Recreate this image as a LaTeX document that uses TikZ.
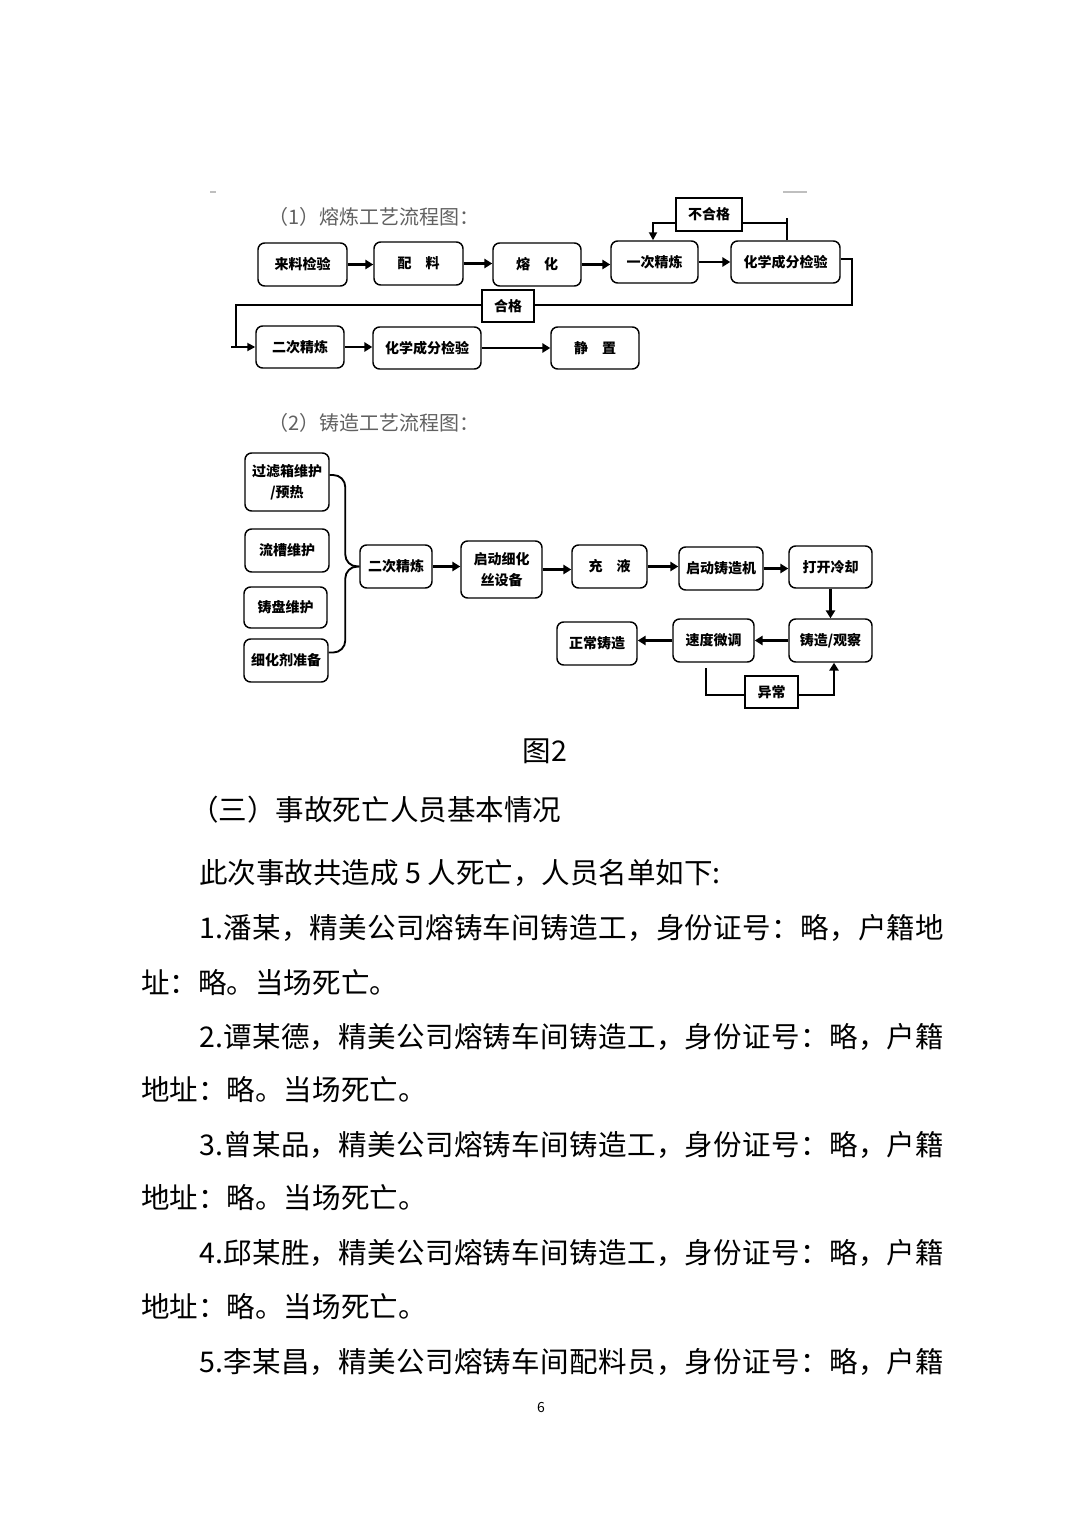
\documentclass[tikz,border=0pt]{standalone}
\usepackage{fontspec}
\setmainfont{Noto Sans CJK SC}
\usetikzlibrary{arrows.meta}
\makeatletter
\def\spr@a#1{\ifx\relax#1\else#1\hskip 0pt plus 1fil\expandafter\spr@a\fi}
\newcommand\jline[1]{\hbox to 558.75pt{\spr@a#1\relax\unskip}}
\makeatother
\begin{document}
\begin{tikzpicture}[x=0.75pt,y=-0.75pt,
  box/.style={draw, line width=1.1pt, rounded corners=5pt, inner sep=0pt, align=center,
    font=\fontsize{10.5pt}{16pt}\selectfont\bfseries},
  rbox/.style={draw, line width=1.1pt, inner sep=0pt, align=center,
    font=\fontsize{10.5pt}{16pt}\selectfont\bfseries},
  arr/.style={line width=2.2pt, -{Triangle[length=6pt,width=7pt]}},
  thk/.style={line width=2.2pt},
  thn/.style={line width=1.4pt},
  tarr/.style={line width=1.4pt, -{Triangle[length=6pt,width=6pt]}},
  ctitle/.style={anchor=west, inner sep=0pt, text=black!62, font=\fontsize{15pt}{15pt}\selectfont},
  body/.style={anchor=west, inner sep=0pt, font=\fontsize{21.4pt}{21.4pt}\selectfont},
]
\useasboundingbox[fill=white] (0,0) rectangle (1080,1527);
\newcommand\bx[7][box]{\node[#1, minimum width={(#5-#3)*0.75pt}, minimum height={(#6-#4)*0.75pt}] (#2) at ({(#3+#5)/2},{(#4+#6)/2}) {#7};}

% faint scan marks
\draw[black!25, line width=1pt] (210,192) -- (216,192);
\draw[black!25, line width=1pt] (783,192) -- (807,192);

% ---------- chart 1 ----------
\node[ctitle] (t1) at (268,217) {（1）熔炼工艺流程图：};
\bx{a1}{258}{243}{347}{286}{来料检验}
\bx{a2}{374}{242}{463}{285}{配　料}
\bx{a3}{493}{243}{581}{286}{熔　化}
\bx{a4}{611}{241}{698}{283}{一次精炼}
\bx{a5}{731}{241}{840}{283}{化学成分检验}
\bx[rbox]{b1}{676}{198}{742}{231}{不合格}
\bx[rbox]{b2}{482}{290}{534}{322}{合格}
\bx{c1}{256}{326}{344}{368}{二次精炼}
\bx{c2}{373}{327}{481}{369}{化学成分检验}
\bx{c3}{551}{327}{639}{369}{静　置}

\draw[arr] (a1.east) -- (a1.east -| a2.west);
\draw[arr] (a2.east) -- (a2.east -| a3.west);
\draw[arr] (a3.east) -- (a3.east -| a4.west);
\draw[arr] (a4.east) -- (a4.east -| a5.west);
\draw[arr] (c1.east) -- (c1.east -| c2.west);
\draw[arr] (c2.east) -- (c2.east -| c3.west);

% not qualified loop
\coordinate (n1) at (787,218);
\coordinate (n2) at (787,223);
\coordinate (n3) at (653,223);
\draw[thn] (n1 |- a5.north) -- (n1);
\draw[thn] (n2) -- (n2 -| b1.east);
\draw[tarr] (n3 -| b1.west) -- (n3) -- (n3 |- a4.north);

% qualified loop
\coordinate (r1) at (852,259);
\coordinate (r2) at (852,305);
\coordinate (l1) at (236,305);
\draw[thn] (r1 -| a5.east) -- (r1) -- (r2) -- (r2 -| b2.east);
\draw[tarr] (l1 -| b2.west) -- (l1) -- (l1 |- c1.west) -- (c1.west);
\draw[thn] (l1 |- c1.west) -- ++(-5,0) coordinate (l0);

% ---------- chart 2 ----------
\node[ctitle] (t2) at (268,423) {（2）铸造工艺流程图：};
\bx{d1}{245}{453}{329}{511}{过滤箱维护\\/预热}
\bx{d2}{245}{529}{329}{572}{流槽维护}
\bx{d3}{244}{587}{327}{628}{铸盘维护}
\bx{d4}{244}{639}{328}{682}{细化剂准备}
\bx{e1}{360}{545}{432}{588}{二次精炼}
\bx{e2}{461}{541}{542}{598}{启动细化\\丝设备}
\bx{e3}{572}{545}{647}{588}{充　液}
\bx{e4}{679}{547}{763}{590}{启动铸造机}
\bx{e5}{789}{546}{872}{588}{打开冷却}
\bx{f1}{789}{619}{872}{662}{铸造/观察}
\bx{f2}{673}{619}{754}{662}{速度微调}
\bx{f3}{557}{622}{637}{665}{正常铸造}
\bx[rbox]{g1}{745}{676}{798}{708}{异常}

% brace
\draw[thn, rounded corners=9pt] ([yshift=5.25pt]d1.east) -| ([xshift=-10.5pt]e1.west) -- (e1.west);
\draw[thn, rounded corners=9pt] ([yshift=6pt]d4.east) -| ([xshift=-10.5pt]e1.west) -- (e1.west);

\draw[arr] (e1.east) -- (e1.east -| e2.west);
\draw[arr] (e2.east) -- (e2.east -| e3.west);
\draw[arr] (e3.east) -- (e3.east -| e4.west);
\draw[arr] (e4.east) -- (e4.east -| e5.west);
\draw[arr] (e5.south) -- (e5.south |- f1.north);
\draw[arr] (f1.west) -- (f1.west -| f2.east);
\draw[arr] (f2.west) -- (f2.west -| f3.east);

% abnormal loop
\coordinate (u1) at (706,668);
\coordinate (u2) at (706,695);
\coordinate (u3) at (834,695);
\draw[thk] (u1) -- (u2) -- (u2 -| g1.west);
\draw[arr] (u3 -| g1.east) -- (u3) -- (u3 |- f1.south);

% ---------- body text ----------
\node[anchor=center, inner sep=0pt, font=\fontsize{21.4pt}{21.4pt}\selectfont] (fig) at (545,751) {图2};
\node[body] (h3) at (190,810) {（三）事故死亡人员基本情况};
\node[body] (p0) at (199,873) {此次事故共造成 5 人死亡，人员名单如下:};
\node[body] (p1) at (199,928) {\jline{{1.}潘某，精美公司熔铸车间铸造工，身份证号：略，户籍地}};
\node[body] (p1b) at (141,983) {址：略。当场死亡。};
\node[body] (p2) at (199,1037) {\jline{{2.}谭某德，精美公司熔铸车间铸造工，身份证号：略，户籍}};
\node[body] (p2b) at (141,1090) {地址：略。当场死亡。};
\node[body] (p3) at (199,1145) {\jline{{3.}曾某品，精美公司熔铸车间铸造工，身份证号：略，户籍}};
\node[body] (p3b) at (141,1198) {地址：略。当场死亡。};
\node[body] (p4) at (199,1253) {\jline{{4.}邱某胜，精美公司熔铸车间铸造工，身份证号：略，户籍}};
\node[body] (p4b) at (141,1307) {地址：略。当场死亡。};
\node[body] (p5) at (199,1362) {\jline{{5.}李某昌，精美公司熔铸车间配料员，身份证号：略，户籍}};
\node[inner sep=0pt, font=\fontsize{10.5pt}{10.5pt}\selectfont] (pg) at (541,1407) {6};
\end{tikzpicture}
\end{document}
